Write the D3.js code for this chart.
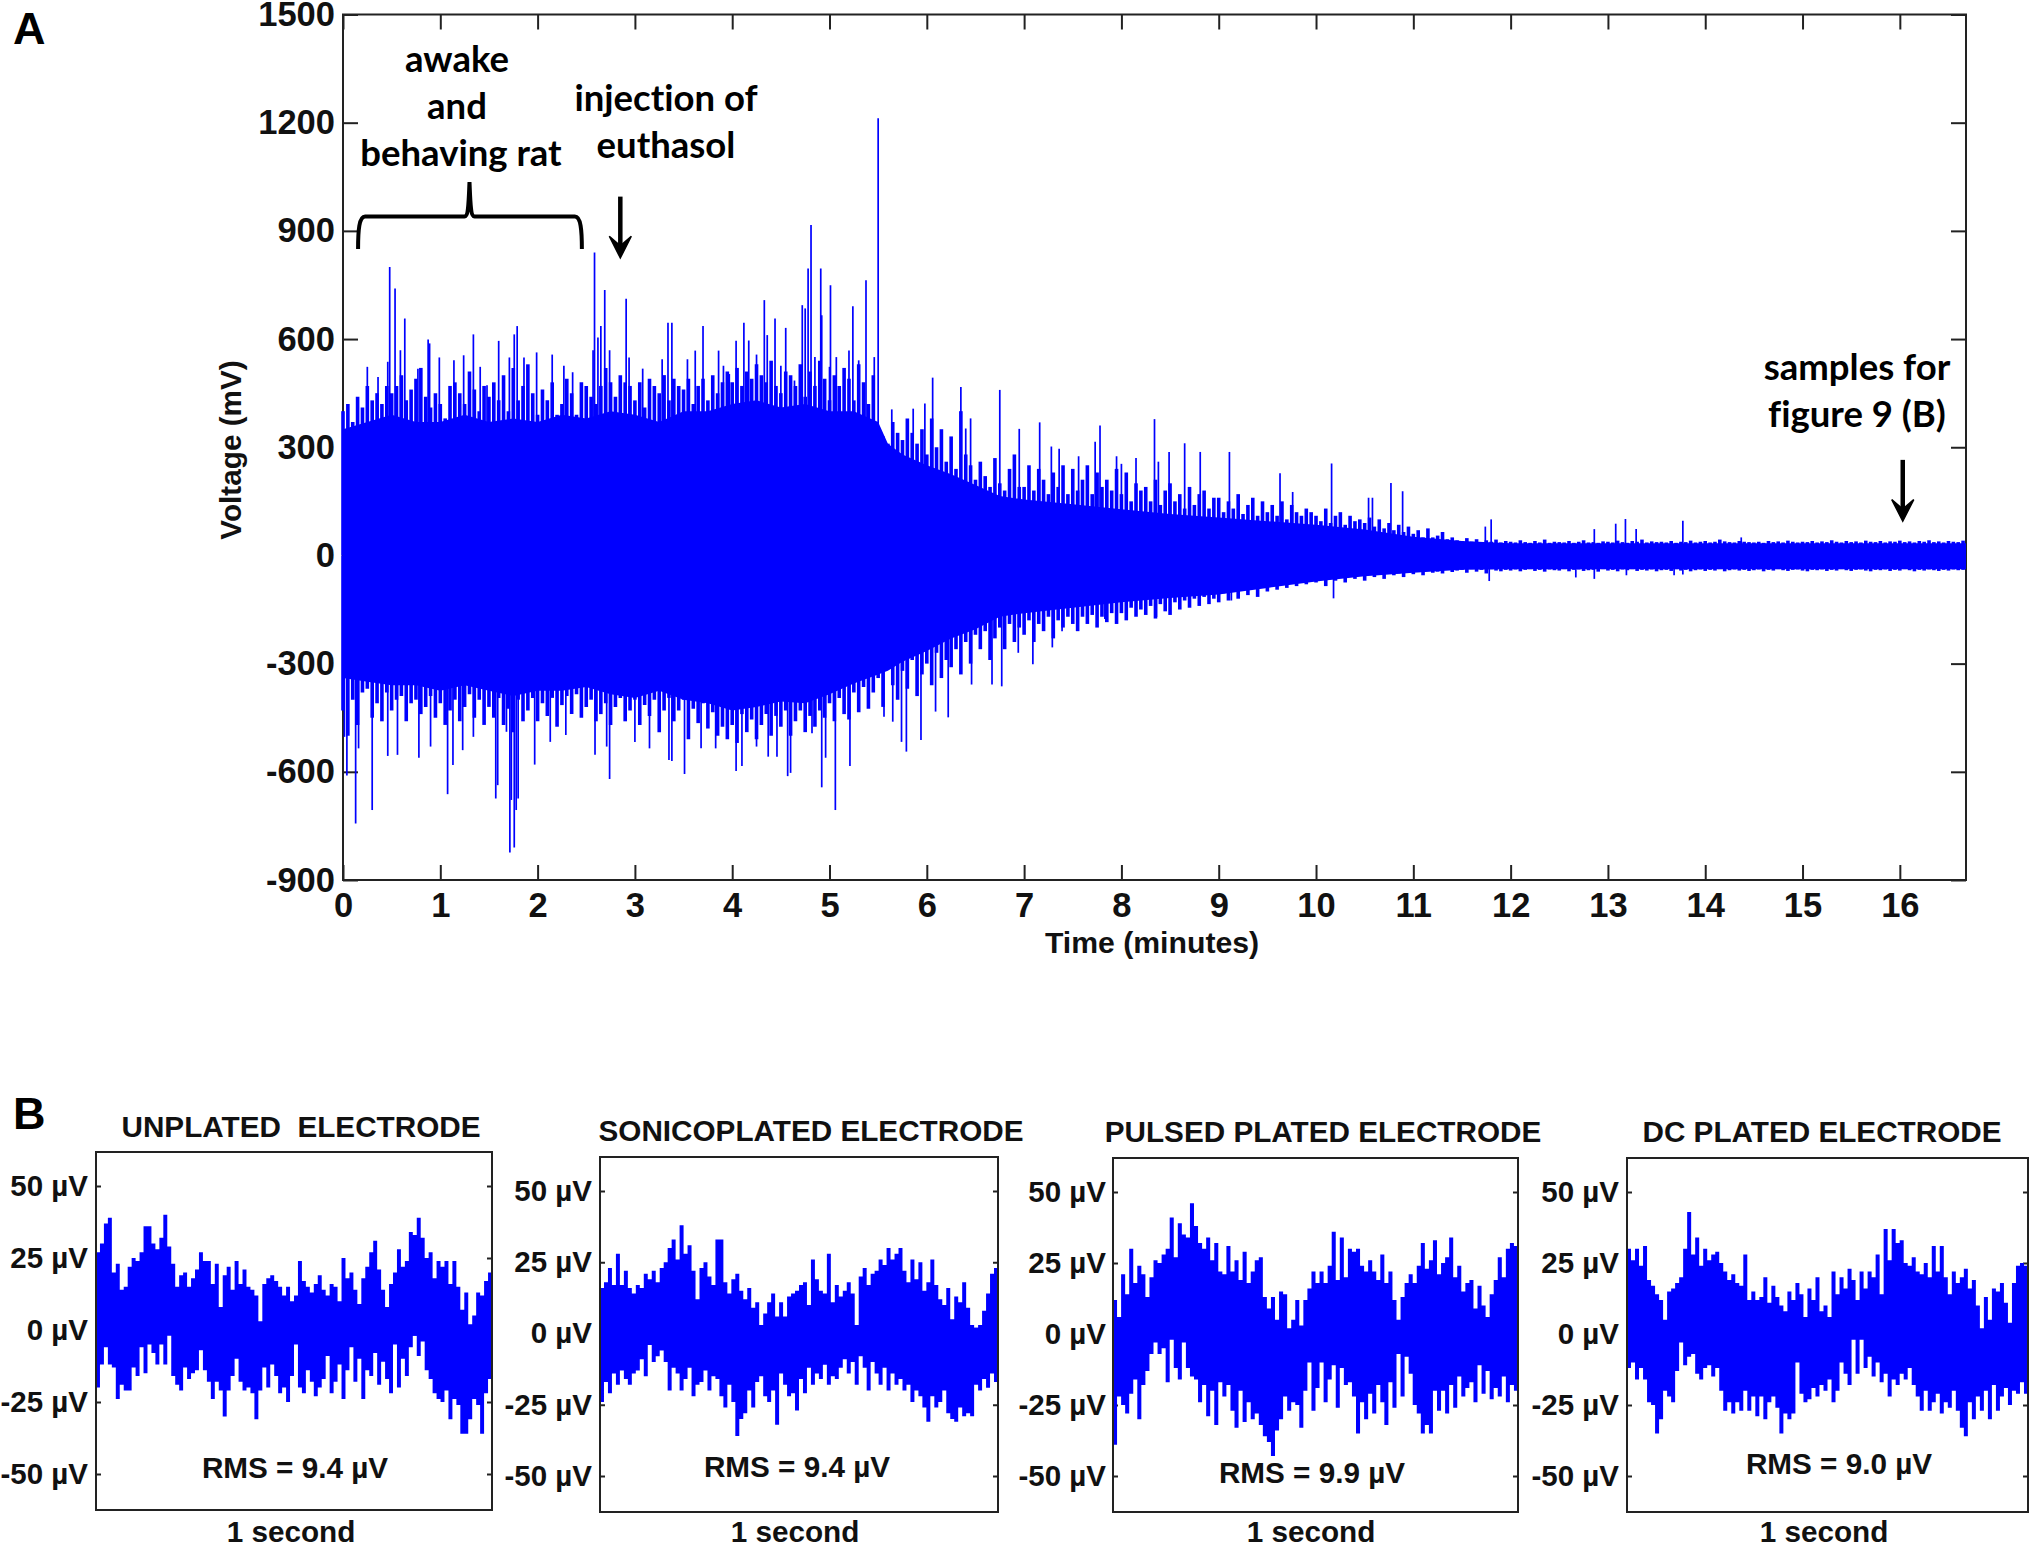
<!DOCTYPE html>
<html>
<head>
<meta charset="utf-8">
<script src="https://cdnjs.cloudflare.com/ajax/libs/d3/7.8.5/d3.min.js"></script>
<style>
  html, body { margin: 0; padding: 0; background: #fff; }
  svg { display: block; }
  text { font-family: "Liberation Sans", Arial, sans-serif; font-weight: bold; fill: #111; }
  .note { font-family: Lato, sans-serif; font-size: 36.5px; fill: #000; font-variant-ligatures: none; }
</style>
</head>
<body>
<svg width="2029" height="1548"></svg>
<script>
////////////////////////// DATA //////////////////////////

const timeTicks = [0, 1, 2, 3, 4, 5, 6, 7, 8, 9, 10, 11, 12, 13, 14, 15, 16];
const voltTicks = [-900, -600, -300, 0, 300, 600, 900, 1200, 1500];
const MAIN_STEP = 0.05; //minutes between envelope samples

// solid core of the recording
const baseTimes = [0,0.25,0.5,0.75,1,1.25,1.5,1.75,2,2.25,2.5,2.75,3,3.25,3.5,3.75,4,4.25,4.5,4.75,5,5.25,5.5,5.6,5.75,6,6.25,6.5,6.75,7,7.5,8,8.5,9,9.5,10,10.5,11,11.5,12,16.68];
const baseTop = [350,370,390,370,370,390,370,380,370,390,380,400,390,370,400,400,420,430,410,420,400,400,370,310,280,250,225,195,165,155,142,128,115,105,95,85,72,52,40,34,34];
const baseBottom = [-340,-350,-360,-360,-375,-360,-375,-390,-375,-375,-365,-385,-395,-375,-400,-410,-430,-420,-405,-410,-385,-355,-330,-320,-295,-265,-230,-205,-170,-160,-145,-130,-118,-108,-90,-72,-58,-48,-40,-38,-38];

// fine teeth on top of the core, one value per MAIN_STEP
const mainTop = [
  400,420,370,440,410,470,430,450,420,470,
  450,470,500,430,460,490,520,440,410,450,
  420,380,470,480,450,420,510,460,400,470,
  440,480,430,500,400,520,430,470,530,450,
  390,460,430,480,390,420,490,450,390,480,
  470,440,420,470,520,480,440,500,480,470,
  430,480,410,490,470,450,500,430,490,470,
  460,490,420,470,490,430,500,450,480,510,
  480,520,470,510,490,530,500,480,540,470,
  450,510,500,470,530,440,510,470,540,490,
  430,500,470,520,490,430,530,480,420,500,
  350,330,310,370,340,320,380,340,310,350,
  280,380,300,350,260,330,240,400,280,250,
  210,260,220,190,270,200,180,240,280,190,
  190,250,180,240,210,170,230,190,250,170,
  240,180,210,250,170,230,190,210,180,240,
  170,230,150,200,180,190,150,210,140,180,
  200,150,170,130,190,140,170,180,130,160,
  160,120,150,130,170,115,140,160,110,150,
  120,140,110,150,100,140,120,110,130,120,
  110,95,130,90,110,120,85,110,95,100,
  90,105,80,100,75,90,70,85,65,80,
  60,70,50,75,50,55,65,45,50,42,
  40,48,38,45,36,42,38,44,36,40,
  38,36,42,37,35,40,36,44,35,38,
  37,36,40,35,38,42,36,37,35,39,
  38,36,41,37,35,40,38,44,36,39,
  37,38,36,40,35,38,37,41,36,38,
  40,36,38,44,39,37,36,40,38,37,
  36,38,35,40,37,39,36,41,38,36,
  38,37,40,36,39,37,42,38,36,40,
  37,39,36,41,38,37,40,36,39,38,
  41,37,39,36,40,38,42,37,39,36,
  40,38,37,41
];
const mainBottom = [
  -430,-500,-400,-470,-380,-370,-450,-410,-460,-380,
  -430,-400,-390,-460,-410,-400,-440,-420,-390,-450,
  -410,-470,-430,-400,-460,-420,-385,-450,-400,-470,
  -420,-450,-395,-470,-425,-490,-400,-460,-430,-395,
  -460,-410,-445,-395,-475,-415,-390,-440,-385,-450,
  -420,-400,-460,-440,-410,-470,-420,-395,-460,-430,
  -400,-470,-415,-445,-400,-490,-430,-395,-460,-430,
  -400,-510,-425,-465,-410,-480,-435,-500,-475,-510,
  -470,-520,-440,-490,-455,-510,-470,-440,-500,-445,
  -475,-430,-500,-460,-430,-490,-445,-475,-430,-450,
  -410,-460,-395,-440,-455,-380,-435,-365,-425,-380,
  -340,-420,-310,-360,-400,-320,-370,-290,-390,-330,
  -300,-360,-270,-340,-290,-310,-260,-330,-240,-300,
  -220,-260,-210,-290,-230,-200,-260,-190,-240,-200,
  -220,-180,-240,-190,-210,-170,-230,-180,-200,-170,
  -190,-210,-170,-190,-165,-200,-170,-185,-160,-190,
  -160,-180,-145,-170,-150,-165,-140,-175,-135,-155,
  -165,-130,-150,-125,-145,-120,-140,-115,-135,-120,
  -130,-105,-125,-100,-120,-90,-110,-85,-115,-90,
  -100,-80,-95,-75,-90,-70,-85,-75,-80,-65,
  -75,-65,-85,-60,-70,-55,-75,-55,-65,-55,
  -70,-50,-60,-50,-65,-48,-55,-50,-60,-46,
  -52,-44,-55,-42,-48,-45,-50,-40,-46,-42,
  -40,-48,-38,-45,-40,-50,-38,-42,-44,-40,
  -42,-39,-44,-40,-38,-43,-40,-45,-39,-41,
  -42,-38,-44,-40,-39,-43,-41,-40,-45,-38,
  -42,-40,-44,-39,-41,-38,-43,-40,-42,-39,
  -44,-41,-40,-43,-38,-42,-40,-44,-41,-39,
  -43,-40,-42,-38,-44,-41,-39,-42,-40,-43,
  -41,-39,-44,-40,-42,-38,-41,-43,-40,-39,
  -42,-44,-40,-41,-39,-43,-40,-42,-38,-41,
  -43,-40,-39,-42,-44,-40,-41,-39,-43,-40,
  -42,-38,-41,-44,-40,-42,-39,-41,-43,-40,
  -42,-39,-41,-40
];

// the single spikes, read one by one
const peakTimesUp = [
  0.48,0.535,0.635,0.875,1.34,1.6,1.76,1.79,2.585,2.62,2.65,2.69,2.91,3.34,3.38,3.7,4.04,4.12,4.33,4.44,4.55,4.72,4.75,4.78,4.81,4.91,4.92,5.01,5.24,5.375,5.5,5.64,5.86,5.98,6.06,6.35,6.4,6.45,6.75,6.95,7.16,7.28,7.36,7.56,7.73,7.78,7.95,8.0,8.15,8.34,8.38,8.49,8.65,8.81,9.11,9.63,9.76,10.16,10.54,10.58,10.77,10.89,11.74,11.8,12.86,13.08,13.18,13.29,13.77,14.37,
  0.25,0.36,0.46,0.59,0.77,0.89,0.99,1.14,1.24,1.41,1.48,1.71,1.86,1.99,2.15,2.27,2.36,2.57,2.74,2.94,3.08,3.28,3.54,3.62,3.86,3.91,3.97,4.17,4.25,4.36,4.5,4.64,4.85,5.0,5.07,5.2,5.3,5.46
];
const peakVoltsUp = [
  800,740,657,599,613,595,613,636,840,604,636,736,712,645,645,636,595,645,708,657,631,694,685,796,916,796,666,749,691,763,1212,405,407,421,493,467,352,380,459,351,369,302,296,275,315,360,275,254,270,378,260,287,311,287,287,228,176,255,160,160,201,178,80,100,73,88,101,73,96,50,
  523,495,537,569,518,588,549,541,555,523,472,549,549,563,557,526,508,569,569,549,518,544,544,568,568,526,503,596,557,611,526,485,550,523,550,568,541,550
];
const peakTimesDown = [
  0.015,0.04,0.13,0.3,1.075,1.13,1.57,1.59,1.715,1.73,1.76,1.78,1.8,1.97,2.74,3.35,3.38,3.51,4.04,4.1,4.57,4.6,4.92,4.96,5.06,5.21,5.74,5.79,5.94,6.09,6.22,6.46,6.67,6.77,6.94,7.09,7.29,7.39,7.83,8.36,9.13,10.18,11.78,12.67,12.86,13.19,13.68,13.77,
  0.16,0.46,0.56,0.78,0.9,1.23,1.34,1.68,2.13,2.29,2.59,2.71,3.0,3.15,3.68,3.83,4.25,4.37,4.46,4.82,5.56,5.65
];
const peakVoltsDown = [
  -503,-610,-743,-706,-662,-581,-674,-637,-824,-678,-810,-706,-674,-580,-620,-567,-570,-606,-598,-584,-612,-603,-643,-561,-706,-584,-517,-544,-512,-433,-449,-358,-358,-363,-270,-302,-255,-210,-176,-171,-125,-119,-71,-61,-65,-55,-55,-53,
  -535,-556,-553,-561,-530,-540,-503,-489,-517,-498,-553,-530,-517,-535,-535,-535,-530,-558,-558,-493,-447,-461
];

const panelTicks = [-50, -25, 0, 25, 50];
const panelTitles = ["UNPLATED  ELECTRODE", "SONICOPLATED ELECTRODE", "PULSED PLATED ELECTRODE", "DC PLATED ELECTRODE"];
const panelRms = ["RMS = 9.4 µV", "RMS = 9.4 µV", "RMS = 9.9 µV", "RMS = 9.0 µV"];

const unplatedTop = [
  27,30,37,39,20,23,14,15,22,25,24,27,36,36,30,28,32,40,29,23,
  15,19,20,15,18,21,27,24,24,16,23,8,19,22,14,24,16,21,15,14,
  12,3,16,18,19,17,15,12,15,10,12,24,17,15,13,16,19,14,12,16,
  15,10,25,18,20,14,9,18,22,27,31,21,14,8,16,20,28,22,24,34,
  33,39,32,25,27,18,24,22,24,16,24,15,7,13,-5,5,13,12,17,20
];
const unplatedBottom = [
  -20,-12,-6,-12,-13,-24,-19,-21,-21,-13,-16,-6,-15,-5,-8,-12,-5,-12,1,-16,
  -19,-21,-13,-17,-15,-14,-7,-14,-18,-24,-18,-21,-30,-21,-16,-10,-18,-21,-20,-22,
  -31,-21,-13,-20,-12,-16,-22,-20,-25,-16,-5,-20,-22,-14,-18,-23,-20,-17,-9,-22,
  -18,-12,-24,-14,-6,-18,-10,-24,-14,-16,-8,-19,-11,-17,-22,-5,-20,-10,-16,-6,
  -2,-9,-4,-14,-17,-22,-24,-25,-21,-31,-24,-26,-36,-36,-31,-24,-26,-36,-22,-17
];
const sonicoTop = [
  16,18,23,17,28,17,22,16,14,17,16,21,19,22,18,23,25,30,33,26,
  38,28,31,22,12,23,25,20,17,33,33,18,14,19,21,15,12,16,9,11,
  3,7,11,14,6,11,6,13,14,15,17,18,10,26,19,15,14,28,11,17,
  13,15,18,14,3,20,23,17,21,22,26,24,30,26,28,30,22,18,26,19,
  25,15,18,26,17,12,10,16,5,13,11,18,9,3,2,3,8,14,21,23
];
const sonicoBottom = [
  -24,-17,-21,-14,-18,-13,-16,-18,-14,-13,-9,-15,-4,-10,-8,-6,-10,-20,-12,-14,
  -20,-16,-12,-22,-18,-17,-13,-20,-15,-16,-22,-26,-18,-24,-36,-30,-28,-20,-26,-17,
  -15,-22,-24,-20,-32,-14,-18,-22,-21,-27,-16,-21,-12,-18,-14,-16,-11,-18,-15,-16,
  -12,-9,-14,-10,-18,-8,-12,-20,-10,-14,-18,-12,-20,-14,-18,-16,-20,-18,-24,-20,
  -22,-26,-31,-22,-26,-24,-20,-28,-30,-31,-26,-29,-28,-29,-18,-20,-16,-19,-14,-17
];
const pulsedTop = [
  12,6,21,14,30,18,24,21,13,20,26,25,28,30,41,27,39,35,34,46,
  38,32,30,34,26,32,22,21,31,22,26,19,29,18,22,26,27,13,9,13,
  5,15,14,0,5,12,3,12,16,22,18,22,18,24,36,19,34,20,30,29,
  30,24,22,26,22,19,28,18,22,12,5,13,18,21,18,24,32,23,26,33,
  21,25,27,34,20,24,15,18,19,9,17,10,6,14,19,27,20,30,32,31
];
const pulsedBottom = [
  -39,-22,-25,-28,-21,-16,-30,-18,-13,-7,-3,-7,-5,-17,4,-12,-16,-3,-12,-15,
  -16,-24,-18,-29,-20,-32,-17,-22,-18,-27,-33,-20,-31,-24,-30,-28,-32,-36,-38,-43,
  -34,-30,-22,-27,-24,-25,-33,-20,-10,-27,-19,-10,-24,-16,-11,-26,-12,-18,-17,-22,
  -35,-24,-30,-21,-28,-18,-24,-32,-17,-26,-7,-22,-8,-14,-25,-28,-35,-32,-35,-20,
  -27,-20,-28,-18,-26,-15,-22,-19,-17,-24,-11,-21,-13,-23,-19,-22,-15,-24,-18,-20
];
const dcTop = [
  30,26,30,24,31,19,17,14,12,5,15,16,18,20,30,43,28,34,24,30,
  26,28,29,25,22,19,21,18,17,28,12,15,12,13,20,11,17,13,10,8,
  15,12,18,14,6,16,12,20,8,10,6,22,14,20,16,23,19,12,22,16,
  22,20,28,14,37,26,37,32,33,25,24,27,22,21,25,20,31,22,31,20,
  14,22,18,20,23,16,19,10,0,13,5,16,15,18,11,4,18,24,25,24
];
const dcBottom = [
  -12,-10,-16,-12,-16,-24,-25,-35,-30,-20,-22,-24,-13,-3,-11,-8,-7,-14,-16,-12,
  -11,-15,-12,-20,-27,-24,-28,-24,-27,-20,-27,-22,-29,-22,-30,-24,-22,-26,-35,-28,
  -30,-28,-10,-21,-24,-23,-19,-22,-18,-20,-16,-24,-20,-10,-14,-18,-1,-14,6,-12,
  -8,-15,-10,-17,-14,-22,-16,-18,-14,-16,-12,-18,-22,-27,-20,-27,-24,-21,-28,-24,
  -26,-20,-27,-33,-36,-24,-30,-22,-27,-20,-30,-18,-27,-22,-19,-25,-20,-21,-17,-21
];
const panelTops = [unplatedTop, sonicoTop, pulsedTop, dcTop];
const panelBottoms = [unplatedBottom, sonicoBottom, pulsedBottom, dcBottom];

////////////////////////// LAYOUT //////////////////////////

const svg = d3.select("svg");
const BLUE = "#0000ff";
const AXIS = "#222";

const x = d3.scaleLinear().domain([0, 16.68]).range([343, 1966]);
const y = d3.scaleLinear().domain([-900, 1500]).range([880, 14.5]);

// box edges, the pixel rows of the +50 and -50 ticks, and where the texts sit
const panelLayout = [
  { left: 96, right: 492, top: 1152, bottom: 1510, y50: 1186, yM50: 1474, titleX: 301, titleY: 1137, rmsX: 295, rmsY: 1478, secX: 291, secY: 1541.5, labelX: 88 },
  { left: 600, right: 998, top: 1157, bottom: 1512, y50: 1191, yM50: 1476, titleX: 811, titleY: 1141, rmsX: 797, rmsY: 1477, secX: 795, secY: 1541.5, labelX: 592 },
  { left: 1113, right: 1518, top: 1158, bottom: 1512, y50: 1192, yM50: 1476, titleX: 1323, titleY: 1142, rmsX: 1312, rmsY: 1483, secX: 1311, secY: 1541.5, labelX: 1106 },
  { left: 1627, right: 2028, top: 1158, bottom: 1512, y50: 1192, yM50: 1476, titleX: 1822, titleY: 1142, rmsX: 1839, rmsY: 1474, secX: 1824, secY: 1541.5, labelX: 1619 },
];

////////////////////////// PANEL A //////////////////////////

function styleAxis(g, fontSize) {
  g.select(".domain").remove();
  g.selectAll("line").attr("stroke", AXIS).attr("stroke-width", 2);
  g.selectAll("text").style("font-size", fontSize + "px").style("font-family", '"Liberation Sans", Arial, sans-serif').style("font-weight", "bold").style("fill", "#111");
}

svg.append("g").attr("transform", "translate(343,0)")
  .call(d3.axisLeft(y).tickValues(voltTicks).tickSize(-15).tickPadding(8).tickFormat(String))
  .call(styleAxis, 34.5);
svg.append("g").attr("transform", "translate(1966,0)")
  .call(d3.axisRight(y).tickValues(voltTicks).tickSize(-15).tickFormat(""))
  .call(styleAxis, 34.5);
svg.append("g").attr("transform", "translate(0,880)")
  .call(d3.axisBottom(x).tickValues(timeTicks).tickSize(-15).tickPadding(13).tickFormat(String))
  .call(styleAxis, 34.5);
svg.append("g").attr("transform", "translate(0,14.5)")
  .call(d3.axisTop(x).tickValues(timeTicks).tickSize(-15).tickFormat(""))
  .call(styleAxis, 34.5);

svg.append("rect")
  .attr("x", x(0)).attr("y", y(1500))
  .attr("width", x(16.68) - x(0)).attr("height", y(-900) - y(1500))
  .attr("fill", "none").attr("stroke", AXIS).attr("stroke-width", 2);

const baseArea = d3.area()
  .x((d, i) => x(baseTimes[i]))
  .y0((d, i) => y(baseBottom[i]))
  .y1(d => y(d));
svg.append("path").datum(baseTop).attr("d", baseArea).attr("fill", BLUE);

function drawTeeth(values, width) {
  svg.append("g").selectAll("line").data(values).join("line")
    .attr("x1", (d, i) => x(i * MAIN_STEP)).attr("x2", (d, i) => x(i * MAIN_STEP))
    .attr("y1", y(0)).attr("y2", d => y(d))
    .attr("stroke", BLUE).attr("stroke-width", width);
}
drawTeeth(mainTop, 3.6);
drawTeeth(mainBottom, 3.6);

svg.append("g").selectAll("line").data(peakTimesUp).join("line")
  .attr("x1", d => x(d)).attr("x2", d => x(d))
  .attr("y1", y(0)).attr("y2", (d, i) => y(peakVoltsUp[i]))
  .attr("stroke", BLUE).attr("stroke-width", 1.7);
svg.append("g").selectAll("line").data(peakTimesDown).join("line")
  .attr("x1", d => x(d)).attr("x2", d => x(d))
  .attr("y1", y(0)).attr("y2", (d, i) => y(peakVoltsDown[i]))
  .attr("stroke", BLUE).attr("stroke-width", 1.7);

svg.append("text").attr("x", 1152).attr("y", 953).attr("text-anchor", "middle").style("font-size", "30.2px").text("Time (minutes)");
svg.append("text").attr("transform", "translate(241,450) rotate(-90)").attr("text-anchor", "middle").style("font-size", "29.7px").text("Voltage (mV)");

svg.append("text").attr("x", 13).attr("y", 44).style("font-size", "45px").style("fill", "#000").text("A");
svg.append("text").attr("x", 13).attr("y", 1129).style("font-size", "45px").style("fill", "#000").text("B");

// annotations
const notes = [
  ["awake", 457, 72], ["and", 457, 119], ["behaving rat", 461, 166],
  ["injection of", 666, 111], ["euthasol", 666, 158],
  ["samples for", 1857, 380], ["figure 9 (B)", 1857, 427],
];
svg.append("g").selectAll("text").data(notes).join("text")
  .attr("class", "note").attr("text-anchor", "middle")
  .attr("x", d => d[1]).attr("y", d => d[2]).text(d => d[0]);

// curly brace over the awake period
const braceL = x(0.155), braceR = x(2.455), braceM = x(1.3), braceY = y(940), braceEnd = y(850), braceTip = y(1035);
svg.append("path")
  .attr("d", `M${braceL},${braceEnd} C${braceL},${braceY + 14} ${braceL + 1},${braceY} ${braceL + 7},${braceY}
    L${braceM - 5},${braceY} C${braceM - 1},${braceY} ${braceM - 1},${braceY - 12} ${braceM},${braceTip}
    C${braceM + 1},${braceY - 12} ${braceM + 1},${braceY} ${braceM + 5},${braceY}
    L${braceR - 7},${braceY} C${braceR - 1},${braceY} ${braceR},${braceY + 14} ${braceR},${braceEnd}`)
  .attr("fill", "none").attr("stroke", "#000").attr("stroke-width", 4);

function drawArrow(t, vFrom, vTo, headV) {
  const ax = x(t);
  svg.append("line").attr("x1", ax).attr("x2", ax).attr("y1", y(vFrom)).attr("y2", y(vTo) - 6)
    .attr("stroke", "#000").attr("stroke-width", 4.5);
  svg.append("path")
    .attr("d", `M${ax - 11},${y(headV)} L${ax},${y(vTo)} L${ax + 11},${y(headV)} L${ax},${y(vTo) - 12} Z`)
    .attr("fill", "#000").attr("stroke", "#000").attr("stroke-width", 1.5);
}
drawArrow(2.85, 995, 825, 885);
drawArrow(16.03, 265, 95, 155);

////////////////////////// PANEL B //////////////////////////

panelLayout.forEach((box, p) => {
  const py = d3.scaleLinear().domain([-50, 50]).range([box.yM50, box.y50]);
  const px = d3.scaleLinear().domain([0, panelTops[p].length]).range([box.left, box.right]);
  const g = svg.append("g");

  g.append("g").attr("transform", `translate(${box.left},0)`)
    .call(d3.axisLeft(py).tickValues(panelTicks).tickSize(-5).tickPadding(box.left - box.labelX).tickFormat(d => d + " µV"))
    .call(styleAxis, 29.5);
  g.append("g").attr("transform", `translate(${box.right},0)`)
    .call(d3.axisRight(py).tickValues(panelTicks).tickSize(-5).tickFormat(""))
    .call(styleAxis, 29.5);

  // upper and lower edge are stepped separately, they overlap a bit so no seam shows at zero
  [[panelTops[p], -2], [panelBottoms[p], 2]].forEach(([edge, seam]) => {
    const area = d3.area()
      .x((d, i) => px(i))
      .y0(py(seam))
      .y1(d => py(d))
      .curve(d3.curveStepAfter);
    g.append("path").datum(edge.concat(edge[edge.length - 1])).attr("d", area).attr("fill", BLUE);
  });

  g.append("rect")
    .attr("x", box.left).attr("y", box.top)
    .attr("width", box.right - box.left).attr("height", box.bottom - box.top)
    .attr("fill", "none").attr("stroke", AXIS).attr("stroke-width", 2);

  g.append("text").attr("x", box.titleX).attr("y", box.titleY).attr("text-anchor", "middle")
    .style("font-size", "29.7px").style("white-space", "pre").text(panelTitles[p]);
  g.append("text").attr("x", box.rmsX).attr("y", box.rmsY).attr("text-anchor", "middle")
    .style("font-size", "29.7px").text(panelRms[p]);
  g.append("text").attr("x", box.secX).attr("y", box.secY).attr("text-anchor", "middle")
    .style("font-size", "29.7px").text("1 second");
});
</script>
</body>
</html>
